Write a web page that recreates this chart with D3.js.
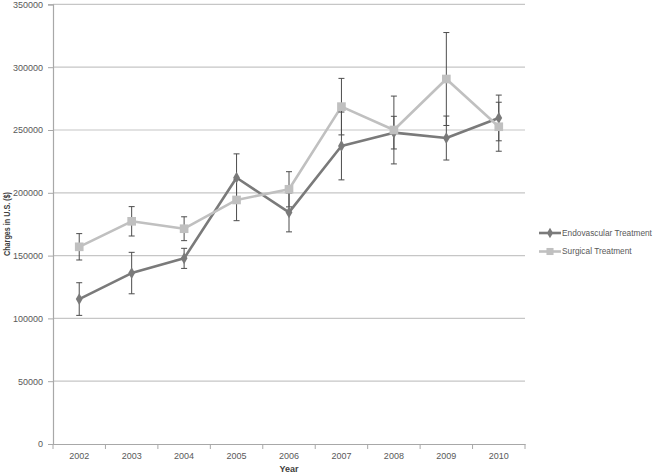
<!DOCTYPE html>
<html>
<head>
<meta charset="utf-8">
<script src="https://cdn.jsdelivr.net/npm/d3@7"></script>
<style>
  html, body { margin: 0; padding: 0; background: #fff; }
  svg { display: block; font-family: "Liberation Sans", Arial, sans-serif; }
</style>
</head>
<body>
<svg id="chart" width="662" height="476"></svg>
<script>
const years = ["2002","2003","2004","2005","2006","2007","2008","2009","2010"];
const endoValues = [115400, 136100, 147800, 212000, 184400, 237300, 247900, 243600, 259600];
const endoErrors = [13000, 16500, 8000, 19000, 15500, 27000, 13000, 17500, 18200];
const surgValues = [157000, 177300, 171400, 194300, 202800, 268600, 250000, 290600, 252600];
const surgErrors = [10500, 11700, 9500, 16500, 14000, 22500, 27000, 37000, 19500];
const yTicks = [0, 50000, 100000, 150000, 200000, 250000, 300000, 350000];
const seriesNames = ["Endovascular Treatment", "Surgical Treatment"];

const svg = d3.select("#chart");
const pLeft = 53, pRight = 525, pTop = 4.4, pBottom = 444;

const x = d3.scaleBand().domain(years).range([pLeft, pRight]).padding(0);
const y = d3.scaleLinear().domain([0, 350000]).range([pBottom, pTop]);

// gridlines
svg.append("g").selectAll("line").data(yTicks.filter(d => d > 0)).join("line")
  .attr("x1", pLeft).attr("x2", pRight)
  .attr("y1", d => y(d)).attr("y2", d => y(d))
  .attr("stroke", "#c6c6c6").attr("stroke-width", 1.2);

// y axis
const yAxis = svg.append("g").attr("transform", `translate(${pLeft},0)`)
  .call(d3.axisLeft(y).tickValues(yTicks).tickSize(5).tickPadding(5).tickFormat(d3.format("d")));
yAxis.select(".domain").attr("stroke", "#a8a8a8").attr("stroke-width", 1.2);
yAxis.selectAll(".tick line").attr("stroke", "#a8a8a8");
yAxis.selectAll("text").attr("fill", "#595959").attr("font-size", "9px")
  .attr("font-family", "'Liberation Sans', sans-serif");

// x axis
const xAxis = svg.append("g").attr("transform", `translate(0,${pBottom})`)
  .call(d3.axisBottom(x).tickSize(0).tickPadding(9));
xAxis.select(".domain").attr("stroke", "#a8a8a8").attr("stroke-width", 1.2);
xAxis.selectAll("text").attr("fill", "#595959").attr("font-size", "9px")
  .attr("font-family", "'Liberation Sans', sans-serif");
const bounds = years.map(d => x(d)).concat([x(years[years.length-1]) + x.bandwidth()]);
xAxis.append("g").selectAll("line").data(bounds).join("line")
  .attr("x1", d => d).attr("x2", d => d).attr("y1", 0).attr("y2", 5)
  .attr("stroke", "#a8a8a8");

// axis titles
svg.append("text").attr("x", 289).attr("y", 472).attr("text-anchor", "middle")
  .attr("font-size", "9px").attr("font-weight", "bold").attr("fill", "#404040").text("Year");
svg.append("text").attr("transform", "translate(7,224) rotate(-90)").attr("text-anchor", "middle")
  .attr("dy", "0.35em")
  .attr("font-size", "8.5px").attr("font-weight", "bold").attr("fill", "#404040")
  .attr("textLength", 64).attr("lengthAdjust", "spacingAndGlyphs")
  .text("Charges in U.S. ($)");

const cx = d => x(d) + x.bandwidth() / 2;
const endoColor = "#7a7a7a", surgColor = "#c0c0c0", errColor = "#4d4d4d";

function drawSeries(values, errors, color) {
  const data = years.map((yr, i) => ({yr, v: values[i], e: errors[i]}));
  const line = d3.line().x(d => cx(d.yr)).y(d => y(d.v));
  svg.append("path").datum(data).attr("d", line)
    .attr("fill", "none").attr("stroke", color).attr("stroke-width", 2.6).attr("stroke-linejoin", "round");
  return data;
}
function drawErrors(data) {
  const g = svg.append("g").attr("stroke", errColor).attr("stroke-width", 1);
  g.selectAll(".v").data(data).join("line")
    .attr("x1", d => cx(d.yr)).attr("x2", d => cx(d.yr))
    .attr("y1", d => y(d.v + d.e)).attr("y2", d => y(d.v - d.e));
  g.selectAll(".t").data(data).join("line")
    .attr("x1", d => cx(d.yr) - 3).attr("x2", d => cx(d.yr) + 3)
    .attr("y1", d => y(d.v + d.e)).attr("y2", d => y(d.v + d.e));
  g.selectAll(".b").data(data).join("line")
    .attr("x1", d => cx(d.yr) - 3).attr("x2", d => cx(d.yr) + 3)
    .attr("y1", d => y(d.v - d.e)).attr("y2", d => y(d.v - d.e));
}
function drawMarkers(data, color, shape, size) {
  svg.append("g").selectAll("path").data(data).join("path")
    .attr("transform", d => `translate(${cx(d.yr)},${y(d.v)})`)
    .attr("d", d3.symbol().type(shape).size(size))
    .attr("fill", color);
}

const endoData = drawSeries(endoValues, endoErrors, endoColor);
const surgData = drawSeries(surgValues, surgErrors, surgColor);
drawErrors(endoData);
drawErrors(surgData);
drawMarkers(endoData, endoColor, d3.symbolDiamond, 40);
drawMarkers(surgData, surgColor, d3.symbolSquare, 75);

// legend
const legend = svg.append("g");
const legItems = [
  {name: seriesNames[0], color: endoColor, shape: d3.symbolDiamond, size: 32, y: 233},
  {name: seriesNames[1], color: surgColor, shape: d3.symbolSquare, size: 50, y: 251.5}
];
legItems.forEach(it => {
  legend.append("line").attr("x1", 539).attr("x2", 561).attr("y1", it.y).attr("y2", it.y)
    .attr("stroke", it.color).attr("stroke-width", 2.6);
  legend.append("path").attr("transform", `translate(550,${it.y})`)
    .attr("d", d3.symbol().type(it.shape).size(it.size)).attr("fill", it.color);
  legend.append("text").attr("x", 562).attr("y", it.y).attr("dy", "0.35em")
    .attr("font-size", "8.3px").attr("fill", "#595959")
    .text(it.name);
});
</script>
</body>
</html>
